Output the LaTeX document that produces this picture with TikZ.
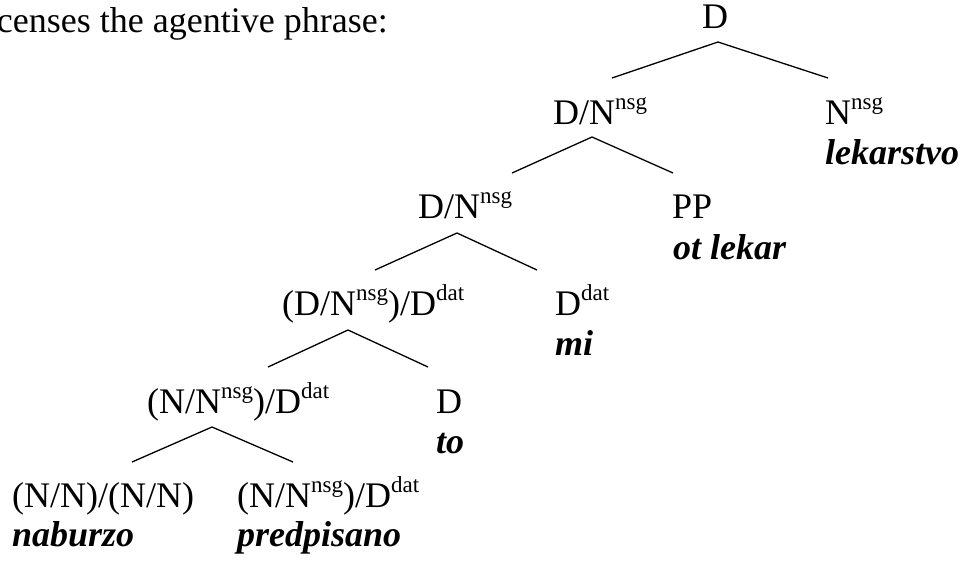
\documentclass[tikz,border=0pt]{standalone}
\usepackage{fontspec}
\setmainfont{Liberation Serif}
% superscript feature label, set smaller and raised
\newcommand{\feat}[1]{\raisebox{15pt}{\fontsize{23}{23}\selectfont #1}}
\begin{document}
\begin{tikzpicture}[x=1pt,y=-1pt,
  cat/.style={anchor=base west,inner sep=0pt,font=\fontsize{36}{42}\selectfont},
  word/.style={anchor=base west,inner sep=0pt,font=\fontsize{36}{42}\selectfont\bfseries\itshape},
  branch/.style={line width=1.3pt,line cap=butt}]
\useasboundingbox (0,0) rectangle (965,560);

% running text above the tree
\node[anchor=base east,inner sep=0pt,font=\fontsize{36}{42}\selectfont] (intro) at (388,32) {licenses the agentive phrase:};

% categories
\node[cat] (root) at (702,28) {D};
\node[cat] (dn1) at (553,124) {D/N\feat{nsg}};
\node[cat] (nsg) at (825,124) {N\feat{nsg}};
\node[cat] (dn2) at (418,218) {D/N\feat{nsg}};
\node[cat] (pp) at (672,218) {PP};
\node[cat] (dnd) at (282,315) {(D/N\feat{nsg})/D\feat{dat}};
\node[cat] (ddat) at (555,315) {D\feat{dat}};
\node[cat] (nnd) at (147,413) {(N/N\feat{nsg})/D\feat{dat}};
\node[cat] (dto) at (436,413) {D};
\node[cat] (nnnn) at (12,507) {(N/N)/(N/N)};
\node[cat] (nnd2) at (237,507) {(N/N\feat{nsg})/D\feat{dat}};

% words
\node[word] (wlek) at (825,164) {lekarstvo};
\node[word] (wot) at (673,259) {ot lekar};
\node[word] (wmi) at (555,355) {mi};
\node[word] (wto) at (436,453) {to};
\node[word] (wnab) at (12,546) {naburzo};
\node[word] (wpred) at (237,546) {predpisano};

% branch points
\coordinate (a1) at (718,42);  \coordinate (l1) at (612,78);  \coordinate (r1) at (828,78);
\coordinate (a2) at (592,137); \coordinate (l2) at (512,173); \coordinate (r2) at (673,173);
\coordinate (a3) at (457,233); \coordinate (l3) at (375,270); \coordinate (r3) at (537,270);
\coordinate (a4) at (348,330); \coordinate (l4) at (268,367); \coordinate (r4) at (428,367);
\coordinate (a5) at (212,427); \coordinate (l5) at (132,462); \coordinate (r5) at (293,462);

\foreach \i in {1,...,5}{
  \draw[branch] (l\i) -- (a\i) -- (r\i);
}
\end{tikzpicture}
\end{document}
